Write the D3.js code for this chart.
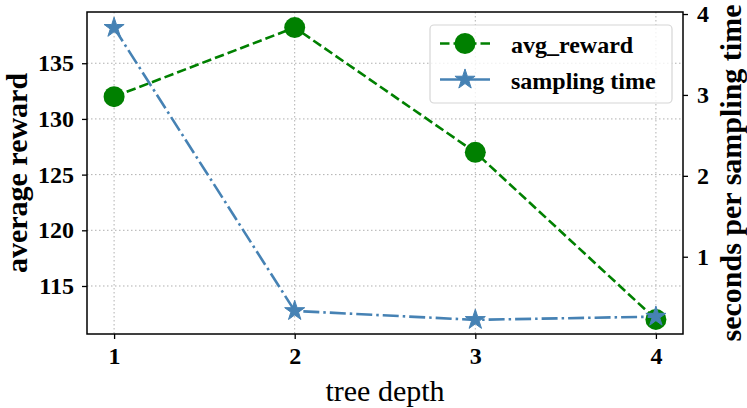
<!DOCTYPE html>
<html>
<head>
<meta charset="utf-8">
<script src="https://cdn.jsdelivr.net/npm/d3@7"></script>
<style>
  body { margin: 0; background: #fff; }
  svg { display: block; font-family: "Liberation Serif", "Times New Roman", serif; }
  .axis text { font-family: "Liberation Serif", "Times New Roman", serif; font-size: 24px; font-weight: bold; fill: #000; }
  .axis line { stroke: #000; stroke-width: 1.3; }
  .axis .domain { display: none; }
  .grid line { stroke: #b0b0b0; stroke-width: 1; stroke-dasharray: 1.5,2.5; }
</style>
</head>
<body>
<div id="chart"></div>
<script>
// tree depth vs reward / sampling time
const depths = [1, 2, 3, 4];
const avgReward = [132.0, 138.2, 127.0, 112.0];
const samplingTime = [3.83, 0.33, 0.22, 0.26];
const rewardTicks = [115, 120, 125, 130, 135];
const timeTicks = [1, 2, 3, 4];
const seriesNames = ["avg_reward", "sampling time"];

const width = 747, height = 408;
const plot = { left: 87, right: 683, top: 12, bottom: 334 };

const green = "#008000";
const blue = "#4682b4";

const svg = d3.select("#chart").append("svg")
    .attr("width", width)
    .attr("height", height);

const x = d3.scaleLinear().domain([0.85, 4.15]).range([plot.left, plot.right]);
const yL = d3.scaleLinear().domain([110.69, 139.6]).range([plot.bottom, plot.top]);
const yR = d3.scaleLinear().domain([0.045, 4.025]).range([plot.bottom, plot.top]);

// grid
const grid = svg.append("g").attr("class", "grid");
grid.selectAll(".gx").data(depths).enter().append("line")
    .attr("x1", d => x(d)).attr("x2", d => x(d))
    .attr("y1", plot.top).attr("y2", plot.bottom);
grid.selectAll(".gy").data(rewardTicks).enter().append("line")
    .attr("x1", plot.left).attr("x2", plot.right)
    .attr("y1", d => yL(d)).attr("y2", d => yL(d));

// axes
svg.append("g")
    .attr("class", "axis")
    .attr("transform", `translate(0,${plot.bottom})`)
    .call(d3.axisBottom(x).tickValues(depths).tickFormat(d3.format("d")).tickSize(5).tickPadding(8));

svg.append("g")
    .attr("class", "axis")
    .attr("transform", `translate(${plot.left},0)`)
    .call(d3.axisLeft(yL).tickValues(rewardTicks).tickFormat(d3.format("d")).tickSize(5).tickPadding(8));

svg.append("g")
    .attr("class", "axis")
    .attr("transform", `translate(${plot.right},0)`)
    .call(d3.axisRight(yR).tickValues(timeTicks).tickFormat(d3.format("d")).tickSize(5).tickPadding(9));

svg.selectAll(".axis").attr("font-family", null).attr("font-size", null);

// axis labels
svg.append("text")
    .attr("transform", `translate(27,${(plot.top + plot.bottom) / 2}) rotate(-90)`)
    .attr("text-anchor", "middle")
    .style("font-size", "30px").style("font-weight", "bold")
    .text("average reward");

svg.append("text")
    .attr("transform", `translate(741,${(plot.top + plot.bottom) / 2}) rotate(-90)`)
    .attr("text-anchor", "middle")
    .style("font-size", "30px").style("font-weight", "bold")
    .text("seconds per sampling time");

svg.append("text")
    .attr("x", (plot.left + plot.right) / 2)
    .attr("y", 401)
    .attr("text-anchor", "middle")
    .style("font-size", "30px")
    .text("tree depth");

// series
const star = d3.symbol().type(d3.symbolStar).size(125);

const lineL = d3.line().x((d, i) => x(depths[i])).y(d => yL(d));
const lineR = d3.line().x((d, i) => x(depths[i])).y(d => yR(d));

svg.append("path")
    .datum(avgReward)
    .attr("d", lineL)
    .attr("fill", "none")
    .attr("stroke", green)
    .attr("stroke-width", 2.6)
    .attr("stroke-dasharray", "9.5,4");

svg.selectAll(".dotL").data(avgReward).enter().append("circle")
    .attr("cx", (d, i) => x(depths[i]))
    .attr("cy", d => yL(d))
    .attr("r", 10.5)
    .attr("fill", green);

svg.append("path")
    .datum(samplingTime)
    .attr("d", lineR)
    .attr("fill", "none")
    .attr("stroke", blue)
    .attr("stroke-width", 2.6)
    .attr("stroke-dasharray", "16,4,2.5,4");

svg.selectAll(".dotR").data(samplingTime).enter().append("path")
    .attr("transform", (d, i) => `translate(${x(depths[i])},${yR(d)})`)
    .attr("d", star)
    .attr("fill", blue)
    .attr("stroke", blue)
    .attr("stroke-width", 1)
    .attr("stroke-linejoin", "miter");

// frame
svg.append("rect")
    .attr("x", plot.left).attr("y", plot.top)
    .attr("width", plot.right - plot.left).attr("height", plot.bottom - plot.top)
    .attr("fill", "none").attr("stroke", "#000").attr("stroke-width", 1.5);

// legend
const legend = svg.append("g");
legend.append("rect")
    .attr("x", 430).attr("y", 25).attr("width", 242).attr("height", 78)
    .attr("rx", 4)
    .attr("fill", "#fff").attr("fill-opacity", 0.8)
    .attr("stroke", "#d6d6d6").attr("stroke-width", 1.2);

const legRows = [
    { y: 43.5, color: green, dash: "9.5,4", marker: "circle" },
    { y: 79.5, color: blue, dash: null, marker: "star" }
];
legRows.forEach((r, i) => {
    legend.append("line")
        .attr("x1", 440).attr("x2", 490)
        .attr("y1", r.y).attr("y2", r.y)
        .attr("stroke", r.color).attr("stroke-width", 2.6)
        .attr("stroke-dasharray", r.dash);
    if (r.marker === "circle") {
        legend.append("circle").attr("cx", 465).attr("cy", r.y).attr("r", 10.5).attr("fill", r.color);
    } else {
        legend.append("path").attr("transform", `translate(465,${r.y})`).attr("d", star)
            .attr("fill", r.color).attr("stroke", r.color).attr("stroke-width", 1);
    }
    legend.append("text")
        .attr("x", 511).attr("y", r.y + 9)
        .style("font-size", "24px").style("font-weight", "bold")
        .text(seriesNames[i]);
});
</script>
</body>
</html>
